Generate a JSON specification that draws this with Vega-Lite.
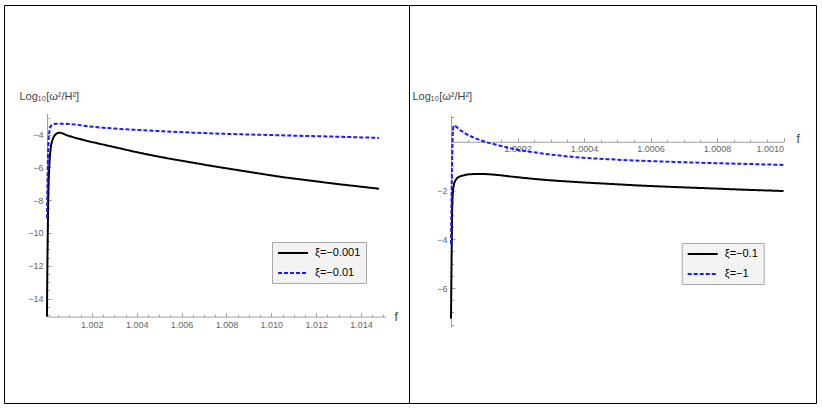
{
  "$schema": "https://vega.github.io/schema/vega-lite/v6.json",
  "padding": {"left": 3, "top": 4, "right": 5, "bottom": 6},
  "background": "white",
  "spacing": 0,
  "bounds": "flush",
  "resolve": {"scale": {"color": "independent", "strokeDash": "independent"}, "legend": {"color": "independent", "strokeDash": "independent"}},
  "config": {
    "font": "Liberation Sans",
    "view": {"stroke": "black", "strokeWidth": 1},
    "axis": {"grid": false, "domainColor": "#a0a0a0", "tickColor": "#a0a0a0", "labelColor": "#666666", "labelFontSize": 9, "labelPadding": 4, "titleColor": "#444444", "titleFontWeight": "normal"},
    "legend": {"orient": "none", "title": null, "fillColor": "#f3f3f3", "strokeColor": "#a8a8a8", "padding": 5, "symbolType": "M-1,0H5", "symbolSize": 100, "symbolStrokeWidth": 2, "labelFontSize": 11, "labelColor": "#000000", "labelOffset": 26, "rowPadding": 9}
  },
  "datasets": {
    "left": [
      {"f": 1.0, "v": -15.1, "s": "ξ=−0.001"},
      {"f": 1.00001, "v": -13.0, "s": "ξ=−0.001"},
      {"f": 1.00003, "v": -10.5, "s": "ξ=−0.001"},
      {"f": 1.00006, "v": -7.6, "s": "ξ=−0.001"},
      {"f": 1.0001, "v": -6.0, "s": "ξ=−0.001"},
      {"f": 1.00016, "v": -4.9, "s": "ξ=−0.001"},
      {"f": 1.00024, "v": -4.35, "s": "ξ=−0.001"},
      {"f": 1.00031, "v": -4.12, "s": "ξ=−0.001"},
      {"f": 1.0004, "v": -3.97, "s": "ξ=−0.001"},
      {"f": 1.00054, "v": -3.88, "s": "ξ=−0.001"},
      {"f": 1.0007, "v": -3.93, "s": "ξ=−0.001"},
      {"f": 1.00085, "v": -4.02, "s": "ξ=−0.001"},
      {"f": 1.00113, "v": -4.14, "s": "ξ=−0.001"},
      {"f": 1.0015, "v": -4.28, "s": "ξ=−0.001"},
      {"f": 1.00187, "v": -4.41, "s": "ξ=−0.001"},
      {"f": 1.00232, "v": -4.55, "s": "ξ=−0.001"},
      {"f": 1.003, "v": -4.76, "s": "ξ=−0.001"},
      {"f": 1.0041, "v": -5.1, "s": "ξ=−0.001"},
      {"f": 1.0052, "v": -5.4, "s": "ξ=−0.001"},
      {"f": 1.00633, "v": -5.67, "s": "ξ=−0.001"},
      {"f": 1.0073, "v": -5.9, "s": "ξ=−0.001"},
      {"f": 1.0083, "v": -6.12, "s": "ξ=−0.001"},
      {"f": 1.0095, "v": -6.38, "s": "ξ=−0.001"},
      {"f": 1.0105, "v": -6.59, "s": "ξ=−0.001"},
      {"f": 1.0117, "v": -6.8, "s": "ξ=−0.001"},
      {"f": 1.0128, "v": -6.99, "s": "ξ=−0.001"},
      {"f": 1.0139, "v": -7.16, "s": "ξ=−0.001"},
      {"f": 1.0148, "v": -7.3, "s": "ξ=−0.001"},
      {"f": 1.0, "v": -9.1, "s": "ξ=−0.01"},
      {"f": 1.00002, "v": -7.0, "s": "ξ=−0.01"},
      {"f": 1.00005, "v": -5.0, "s": "ξ=−0.01"},
      {"f": 1.0001, "v": -3.9, "s": "ξ=−0.01"},
      {"f": 1.00016, "v": -3.52, "s": "ξ=−0.01"},
      {"f": 1.00025, "v": -3.38, "s": "ξ=−0.01"},
      {"f": 1.0004, "v": -3.33, "s": "ξ=−0.01"},
      {"f": 1.0007, "v": -3.33, "s": "ξ=−0.01"},
      {"f": 1.0011, "v": -3.36, "s": "ξ=−0.01"},
      {"f": 1.0015, "v": -3.43, "s": "ξ=−0.01"},
      {"f": 1.0019, "v": -3.5, "s": "ξ=−0.01"},
      {"f": 1.003, "v": -3.63, "s": "ξ=−0.01"},
      {"f": 1.0041, "v": -3.72, "s": "ξ=−0.01"},
      {"f": 1.0052, "v": -3.8, "s": "ξ=−0.01"},
      {"f": 1.0065, "v": -3.88, "s": "ξ=−0.01"},
      {"f": 1.0081, "v": -3.96, "s": "ξ=−0.01"},
      {"f": 1.0095, "v": -4.01, "s": "ξ=−0.01"},
      {"f": 1.0112, "v": -4.07, "s": "ξ=−0.01"},
      {"f": 1.013, "v": -4.13, "s": "ξ=−0.01"},
      {"f": 1.0148, "v": -4.2, "s": "ξ=−0.01"}
    ],
    "right": [
      {"f": 1.0, "v": -7.25, "s": "ξ=−0.1"},
      {"f": 1.000002, "v": -4.5, "s": "ξ=−0.1"},
      {"f": 1.000004, "v": -2.5, "s": "ξ=−0.1"},
      {"f": 1.000008, "v": -1.8, "s": "ξ=−0.1"},
      {"f": 1.000015, "v": -1.55, "s": "ξ=−0.1"},
      {"f": 1.00002, "v": -1.47, "s": "ξ=−0.1"},
      {"f": 1.00004, "v": -1.37, "s": "ξ=−0.1"},
      {"f": 1.00006, "v": -1.33, "s": "ξ=−0.1"},
      {"f": 1.00009, "v": -1.32, "s": "ξ=−0.1"},
      {"f": 1.00013, "v": -1.35, "s": "ξ=−0.1"},
      {"f": 1.00019, "v": -1.44, "s": "ξ=−0.1"},
      {"f": 1.00028, "v": -1.56, "s": "ξ=−0.1"},
      {"f": 1.000375, "v": -1.65, "s": "ξ=−0.1"},
      {"f": 1.00048, "v": -1.73, "s": "ξ=−0.1"},
      {"f": 1.000575, "v": -1.8, "s": "ξ=−0.1"},
      {"f": 1.00068, "v": -1.86, "s": "ξ=−0.1"},
      {"f": 1.000776, "v": -1.91, "s": "ξ=−0.1"},
      {"f": 1.00089, "v": -1.97, "s": "ξ=−0.1"},
      {"f": 1.001, "v": -2.02, "s": "ξ=−0.1"},
      {"f": 1.0, "v": -4.2, "s": "ξ=−1"},
      {"f": 1.000002, "v": -2.0, "s": "ξ=−1"},
      {"f": 1.000004, "v": -0.3, "s": "ξ=−1"},
      {"f": 1.000006, "v": 0.45, "s": "ξ=−1"},
      {"f": 1.000008, "v": 0.66, "s": "ξ=−1"},
      {"f": 1.00003, "v": 0.46, "s": "ξ=−1"},
      {"f": 1.000054, "v": 0.26, "s": "ξ=−1"},
      {"f": 1.00008, "v": 0.11, "s": "ξ=−1"},
      {"f": 1.000104, "v": -0.01, "s": "ξ=−1"},
      {"f": 1.00013, "v": -0.1, "s": "ξ=−1"},
      {"f": 1.00018, "v": -0.27, "s": "ξ=−1"},
      {"f": 1.000275, "v": -0.48, "s": "ξ=−1"},
      {"f": 1.000375, "v": -0.63, "s": "ξ=−1"},
      {"f": 1.00048, "v": -0.72, "s": "ξ=−1"},
      {"f": 1.000575, "v": -0.78, "s": "ξ=−1"},
      {"f": 1.00068, "v": -0.83, "s": "ξ=−1"},
      {"f": 1.000776, "v": -0.87, "s": "ξ=−1"},
      {"f": 1.00089, "v": -0.91, "s": "ξ=−1"},
      {"f": 1.001, "v": -0.95, "s": "ξ=−1"}
    ]
  },
  "hconcat": [
    {
      "width": 405,
      "height": 398,
      "data": {"name": "left"},
      "resolve": {"axis": {"x": "independent", "y": "independent"}},
      "layer": [
        {
          "mark": {"type": "line", "strokeWidth": 2, "interpolate": "monotone"},
          "encoding": {
            "x": {"field": "f", "type": "quantitative",
              "scale": {"domain": [1.0, 1.0151], "range": [43, 381.7], "nice": false, "zero": false},
              "axis": {"orient": "bottom", "offset": -86.4, "values": [1.002, 1.004, 1.006, 1.008, 1.01, 1.012, 1.014], "format": ".3f", "ticks": false,
                "title": "f", "titleFontSize": 12, "titleX": 390, "titleY": 0, "titleAlign": "left", "titleBaseline": "middle", "titleAngle": 0}},
            "y": {"field": "v", "type": "quantitative",
              "scale": {"domain": [-15.1, -2.7], "range": [311.6, 108.3], "nice": false, "zero": false},
              "axis": {"orient": "left", "offset": -43, "values": [-14, -12, -10, -8, -6, -4], "format": "d", "ticks": false,
                "title": "Log₁₀[ω²/H²]", "titleFontSize": 11, "titleAngle": 0, "titleX": -28, "titleY": 91, "titleAlign": "left", "titleBaseline": "middle"}},
            "color": {"field": "s", "type": "nominal",
              "scale": {"domain": ["ξ=−0.001", "ξ=−0.01"], "range": ["#000000", "#1a1aff"]},
              "legend": {"legendX": 268, "legendY": 237}},
            "strokeDash": {"field": "s", "type": "nominal",
              "scale": {"domain": ["ξ=−0.001", "ξ=−0.01"], "range": [[1, 0], [4, 2]]},
              "legend": {"legendX": 268, "legendY": 237}}
          }
        },
        {
          "mark": {"type": "point", "opacity": 0},
          "encoding": {
            "x": {"field": "f", "type": "quantitative",
              "axis": {"orient": "bottom", "offset": -86.4, "values": [1.002, 1.004, 1.006, 1.008, 1.01, 1.012, 1.014], "labels": false, "domain": false, "tickSize": -4, "title": null}},
            "y": {"field": "v", "type": "quantitative",
              "axis": {"orient": "left", "offset": -43, "values": [-14, -12, -10, -8, -6, -4], "labels": false, "domain": false, "tickSize": -4, "title": null}}
          }
        },
        {
          "mark": {"type": "point", "opacity": 0},
          "encoding": {
            "x": {"field": "f", "type": "quantitative",
              "axis": {"orient": "bottom", "offset": -86.4, "values": [1.0005, 1.001, 1.0015, 1.0025, 1.003, 1.0035, 1.0045, 1.005, 1.0055, 1.0065, 1.007, 1.0075, 1.0085, 1.009, 1.0095, 1.0105, 1.011, 1.0115, 1.0125, 1.013, 1.0135, 1.0145, 1.015], "labels": false, "domain": false, "tickSize": -2.5, "title": null}},
            "y": {"field": "v", "type": "quantitative",
              "axis": {"orient": "left", "offset": -43, "values": [-15, -14.5, -13.5, -13, -12.5, -11.5, -11, -10.5, -9.5, -9, -8.5, -7.5, -7, -6.5, -5.5, -5, -4.5, -3.5, -3], "labels": false, "domain": false, "tickSize": -2.5, "title": null}}
          }
        }
      ]
    },
    {
      "width": 407,
      "height": 398,
      "data": {"name": "right"},
      "resolve": {"axis": {"x": "independent", "y": "independent"}},
      "layer": [
        {
          "mark": {"type": "line", "strokeWidth": 2, "interpolate": "monotone"},
          "encoding": {
            "x": {"field": "f", "type": "quantitative",
              "scale": {"domain": [1.0, 1.001], "range": [42, 374.5], "nice": false, "zero": false},
              "axis": {"orient": "bottom", "offset": -261.2, "values": [1.0002, 1.0004, 1.0006, 1.0008, 1.001], "format": ".4f", "ticks": false, "labelPadding": 3,
                "title": "f", "titleFontSize": 12, "titleX": 387, "titleY": -3, "titleAlign": "left", "titleBaseline": "middle", "titleAngle": 0}},
            "y": {"field": "v", "type": "quantitative",
              "scale": {"domain": [-7.6, 1.07], "range": [322, 110.7], "nice": false, "zero": false},
              "axis": {"orient": "left", "offset": -42, "values": [-6, -4, -2], "format": "d", "ticks": false,
                "title": "Log₁₀[ω²/H²]", "titleFontSize": 11, "titleAngle": 0, "titleX": -39, "titleY": 91, "titleAlign": "left", "titleBaseline": "middle"}},
            "color": {"field": "s", "type": "nominal",
              "scale": {"domain": ["ξ=−0.1", "ξ=−1"], "range": ["#000000", "#1a1aff"]},
              "legend": {"legendX": 272.7, "legendY": 238}},
            "strokeDash": {"field": "s", "type": "nominal",
              "scale": {"domain": ["ξ=−0.1", "ξ=−1"], "range": [[1, 0], [4, 2]]},
              "legend": {"legendX": 272.7, "legendY": 238}}
          }
        },
        {
          "mark": {"type": "point", "opacity": 0},
          "encoding": {
            "x": {"field": "f", "type": "quantitative",
              "axis": {"orient": "bottom", "offset": -261.2, "values": [1.0002, 1.0004, 1.0006, 1.0008, 1.001], "labels": false, "domain": false, "tickSize": -4, "title": null}},
            "y": {"field": "v", "type": "quantitative",
              "axis": {"orient": "left", "offset": -42, "values": [-6, -4, -2], "labels": false, "domain": false, "tickSize": -4, "title": null}}
          }
        },
        {
          "mark": {"type": "point", "opacity": 0},
          "encoding": {
            "x": {"field": "f", "type": "quantitative",
              "axis": {"orient": "bottom", "offset": -261.2, "values": [1.00005, 1.0001, 1.00015, 1.00025, 1.0003, 1.00035, 1.00045, 1.0005, 1.00055, 1.00065, 1.0007, 1.00075, 1.00085, 1.0009, 1.00095], "labels": false, "domain": false, "tickSize": -2.5, "title": null}},
            "y": {"field": "v", "type": "quantitative",
              "axis": {"orient": "left", "offset": -42, "values": [-7.5, -7, -6.5, -5.5, -5, -4.5, -3.5, -3, -2.5, -1.5, -1, -0.5, 0.5, 1], "labels": false, "domain": false, "tickSize": -2.5, "title": null}}
          }
        }
      ]
    }
  ]
}
